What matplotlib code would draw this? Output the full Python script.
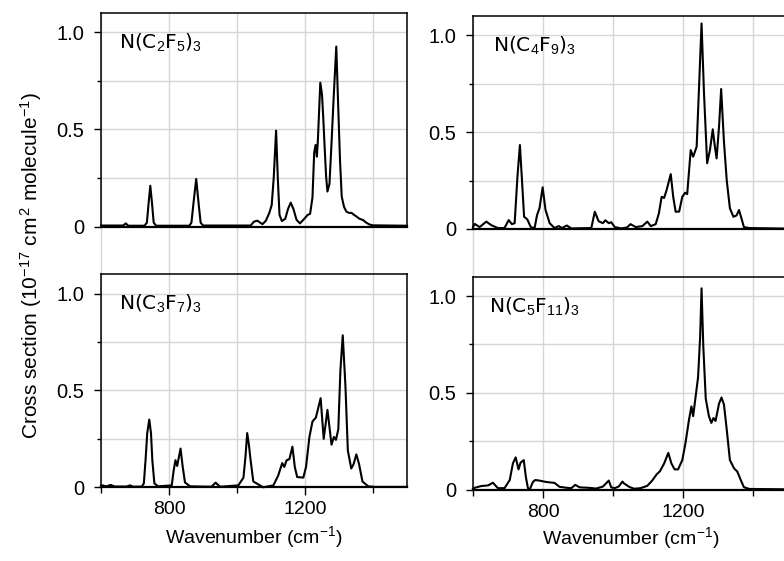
import matplotlib
matplotlib.use("Agg")
import matplotlib.pyplot as plt

plt.rcParams['mathtext.fontset'] = 'custom'
plt.rcParams['mathtext.rm'] = 'Liberation Sans'
plt.rcParams['mathtext.it'] = 'Liberation Sans:italic'
plt.rcParams['font.family'] = ['Liberation Sans', 'DejaVu Sans']

# ---------------- data ----------------
compounds = [r"N(C$_2$F$_5$)$_3$", r"N(C$_4$F$_9$)$_3$",
             r"N(C$_3$F$_7$)$_3$", r"N(C$_5$F$_{11}$)$_3$"]

wn_c2f5 = [600, 640, 665, 673, 680, 728, 735, 740, 745, 750, 755, 762, 860, 866, 872, 880, 887, 893, 900,
           1040, 1050, 1060, 1068, 1075, 1085, 1095, 1102, 1108, 1115, 1120, 1125, 1132, 1142, 1150, 1158,
           1166, 1175, 1185, 1198, 1208, 1215, 1222, 1227, 1231, 1235, 1238, 1245, 1250, 1254, 1258, 1262,
           1266, 1272, 1278, 1285, 1292, 1298, 1303, 1308, 1315, 1322, 1330, 1337, 1344, 1351, 1360, 1371,
           1380, 1390, 1400, 1500]
xs_c2f5 = [0.005, 0.005, 0.005, 0.016, 0.004, 0.004, 0.02, 0.12, 0.21, 0.12, 0.02, 0.004, 0.004, 0.02, 0.12,
           0.245, 0.12, 0.02, 0.005, 0.005, 0.025, 0.03, 0.02, 0.012, 0.03, 0.07, 0.11, 0.25, 0.494, 0.25,
           0.06, 0.028, 0.04, 0.09, 0.123, 0.09, 0.035, 0.016, 0.04, 0.06, 0.065, 0.15, 0.38, 0.42, 0.36,
           0.45, 0.741, 0.68, 0.55, 0.4, 0.26, 0.18, 0.22, 0.43, 0.69, 0.927, 0.6, 0.34, 0.154, 0.1, 0.076,
           0.07, 0.07, 0.06, 0.052, 0.04, 0.033, 0.02, 0.01, 0.006, 0.004]

wn_c4f9 = [600, 605, 619, 638, 652, 671, 690, 702, 711, 719, 727, 734, 740, 746, 755, 765, 776, 783, 790,
           799, 807, 819, 833, 845, 854, 868, 881, 938, 948, 959, 971, 978, 988, 995, 1005, 1024, 1040, 1050,
           1065, 1084, 1098, 1108, 1122, 1131, 1139, 1146, 1153, 1165, 1172, 1179, 1189, 1198, 1206, 1212,
           1222, 1229, 1239, 1247, 1253, 1260, 1269, 1277, 1285, 1290, 1296, 1303, 1309, 1317, 1325, 1334,
           1344, 1353, 1360, 1367, 1374, 1389, 1500]
xs_c4f9 = [0.01, 0.026, 0.01, 0.038, 0.02, 0.005, 0.005, 0.046, 0.025, 0.03, 0.27, 0.433, 0.25, 0.063, 0.05,
           0.01, 0.005, 0.072, 0.107, 0.215, 0.1, 0.03, 0.005, 0.015, 0.005, 0.018, 0.003, 0.005, 0.089, 0.04,
           0.03, 0.045, 0.03, 0.035, 0.01, 0.003, 0.008, 0.025, 0.01, 0.015, 0.038, 0.015, 0.025, 0.08, 0.166,
           0.16, 0.2, 0.283, 0.166, 0.089, 0.09, 0.166, 0.187, 0.18, 0.407, 0.373, 0.424, 0.785, 1.06, 0.7,
           0.339, 0.407, 0.514, 0.44, 0.364, 0.53, 0.722, 0.45, 0.25, 0.107, 0.063, 0.07, 0.098, 0.055, 0.01,
           0.005, 0.002]

wn_c3f7 = [600, 604, 615, 629, 640, 675, 685, 695, 720, 726, 731, 736, 742, 747, 751, 757, 768, 808, 814,
           819, 824, 834, 840, 847, 862, 925, 937, 950, 1004, 1019, 1025, 1030, 1035, 1040, 1048, 1077, 1107,
           1121, 1133, 1139, 1146, 1154, 1163, 1170, 1177, 1195, 1203, 1213, 1222, 1232, 1246, 1255, 1266,
           1278, 1285, 1291, 1298, 1304, 1311, 1319, 1326, 1336, 1343, 1351, 1359, 1369, 1386, 1406, 1500]
xs_c3f7 = [0.008, 0.01, 0.005, 0.012, 0.004, 0.004, 0.01, 0.003, 0.004, 0.02, 0.14, 0.28, 0.35, 0.28, 0.14,
           0.02, 0.005, 0.01, 0.09, 0.14, 0.11, 0.2, 0.11, 0.025, 0.005, 0.003, 0.024, 0.003, 0.01, 0.05,
           0.16, 0.28, 0.22, 0.14, 0.03, 0.0, 0.01, 0.06, 0.125, 0.105, 0.14, 0.145, 0.21, 0.105, 0.053,
           0.05, 0.105, 0.26, 0.34, 0.36, 0.46, 0.25, 0.40, 0.22, 0.26, 0.245, 0.30, 0.6, 0.785, 0.52, 0.19,
           0.097, 0.12, 0.17, 0.12, 0.03, 0.005, 0.002, 0.002]

wn_c5f11 = [600, 605, 624, 643, 657, 671, 690, 705, 714, 722, 730, 736, 745, 751, 757, 762, 771, 778, 790,
            809, 833, 847, 867, 881, 892, 905, 929, 952, 971, 988, 995, 1005, 1016, 1027, 1031, 1046, 1060,
            1079, 1098, 1112, 1125, 1134, 1146, 1158, 1167, 1176, 1186, 1198, 1207, 1217, 1224, 1229, 1236,
            1243, 1249, 1253, 1258, 1265, 1274, 1281, 1287, 1293, 1303, 1310, 1317, 1325, 1334, 1346, 1355,
            1365, 1374, 1389, 1500]
xs_c5f11 = [0.005, 0.01, 0.019, 0.022, 0.036, 0.008, 0.008, 0.05, 0.136, 0.167, 0.105, 0.14, 0.153, 0.066,
            0.008, 0.0, 0.04, 0.05, 0.047, 0.04, 0.035, 0.015, 0.01, 0.008, 0.025, 0.012, 0.01, 0.006, 0.016,
            0.047, 0.012, 0.008, 0.016, 0.042, 0.033, 0.015, 0.005, 0.008, 0.02, 0.047, 0.08, 0.095, 0.135,
            0.19, 0.135, 0.105, 0.105, 0.153, 0.24, 0.36, 0.43, 0.38, 0.48, 0.58, 0.79, 1.04, 0.74, 0.47,
            0.38, 0.345, 0.37, 0.355, 0.445, 0.476, 0.44, 0.31, 0.153, 0.11, 0.094, 0.05, 0.013, 0.004, 0.002]

ytick_vals = [0, 0.5, 1.0]
ytick_labels = ["0", "0.5", "1.0"]
yminor_vals = [0.25, 0.75]
xtick_vals = [800, 1200]
xtick_labels = ["800", "1200"]
xminor_vals = [600, 1000, 1400]
xgrid_vals = [600, 800, 1000, 1200, 1400]
ygrid_vals = [0.25, 0.5, 0.75, 1.0]

# ---------------- figure ----------------
W, H = 784, 561
fig = plt.figure(figsize=(W / 100, H / 100), dpi=100)

def rect(left, right, top, zero):
    return [left / W, 1 - zero / H, (right - left) / W, (zero - top) / H]

axes_rects = [rect(101, 407, 13, 226.5), rect(473, 788, 15.7, 229),
              rect(101, 407, 274.3, 487.3), rect(473, 788, 276.7, 489.7)]
datasets = [(wn_c2f5, xs_c2f5), (wn_c4f9, xs_c4f9), (wn_c3f7, xs_c3f7), (wn_c5f11, xs_c5f11)]
label_x = [0.059, 0.064, 0.059, 0.05]
grid_col = "#d6d6d6"

for i, (r, (wn, xs), lab) in enumerate(zip(axes_rects, datasets, compounds)):
    ax = fig.add_axes(r)
    top_row = i < 2
    ax.set_xlim(600, 1500)
    ax.set_ylim(0, 1.1)
    for yv in ygrid_vals:
        ax.axhline(yv, color=grid_col, lw=1.0, zorder=0)
    for xv in xgrid_vals:
        if top_row:
            ax.axvline(xv, ymin=-0.223, ymax=1, color=grid_col, lw=1.0, zorder=0, clip_on=False)
        else:
            ax.axvline(xv, color=grid_col, lw=1.0, zorder=0)
    ax.plot(wn, xs, color="black", lw=1.5, zorder=3, clip_on=False, solid_joinstyle='round')
    ax.set_yticks(ytick_vals)
    ax.set_yticklabels(ytick_labels)
    ax.set_yticks(yminor_vals, minor=True)
    ax.tick_params(axis='y', which='major', length=5, width=1, direction='out', pad=7, labelsize=14.5)
    ax.tick_params(axis='y', which='minor', length=3, width=1, direction='out')
    if top_row:
        ax.set_xticks([])
    else:
        ax.set_xticks(xtick_vals)
        ax.set_xticklabels(xtick_labels)
        ax.set_xticks(xminor_vals, minor=True)
        ax.tick_params(axis='x', which='major', length=6, width=1, direction='out', pad=4, labelsize=14)
        ax.tick_params(axis='x', which='minor', length=4, width=1, direction='out')
    for s in ax.spines.values():
        s.set_linewidth(1.1)
    ax.spines['bottom'].set_linewidth(1.6)
    ax.text(label_x[i], 0.86, lab, transform=ax.transAxes, fontsize=14.5,
            family='DejaVu Sans', ha='left', va='center', zorder=4)

fig.text(254 / W, 1 - 543 / H, r"Wavenumber (cm$^{-1}$)", ha='center', va='baseline', fontsize=14)
fig.text(631 / W, 1 - 544 / H, r"Wavenumber (cm$^{-1}$)", ha='center', va='baseline', fontsize=14)
fig.text(31 / W, 1 - 266 / H, r"Cross section (10$^{-17}$ cm$^{\,2}$ molecule$^{-1}$)",
         ha='center', va='center', rotation=90, fontsize=15)

fig.savefig("out.png", dpi=100)
